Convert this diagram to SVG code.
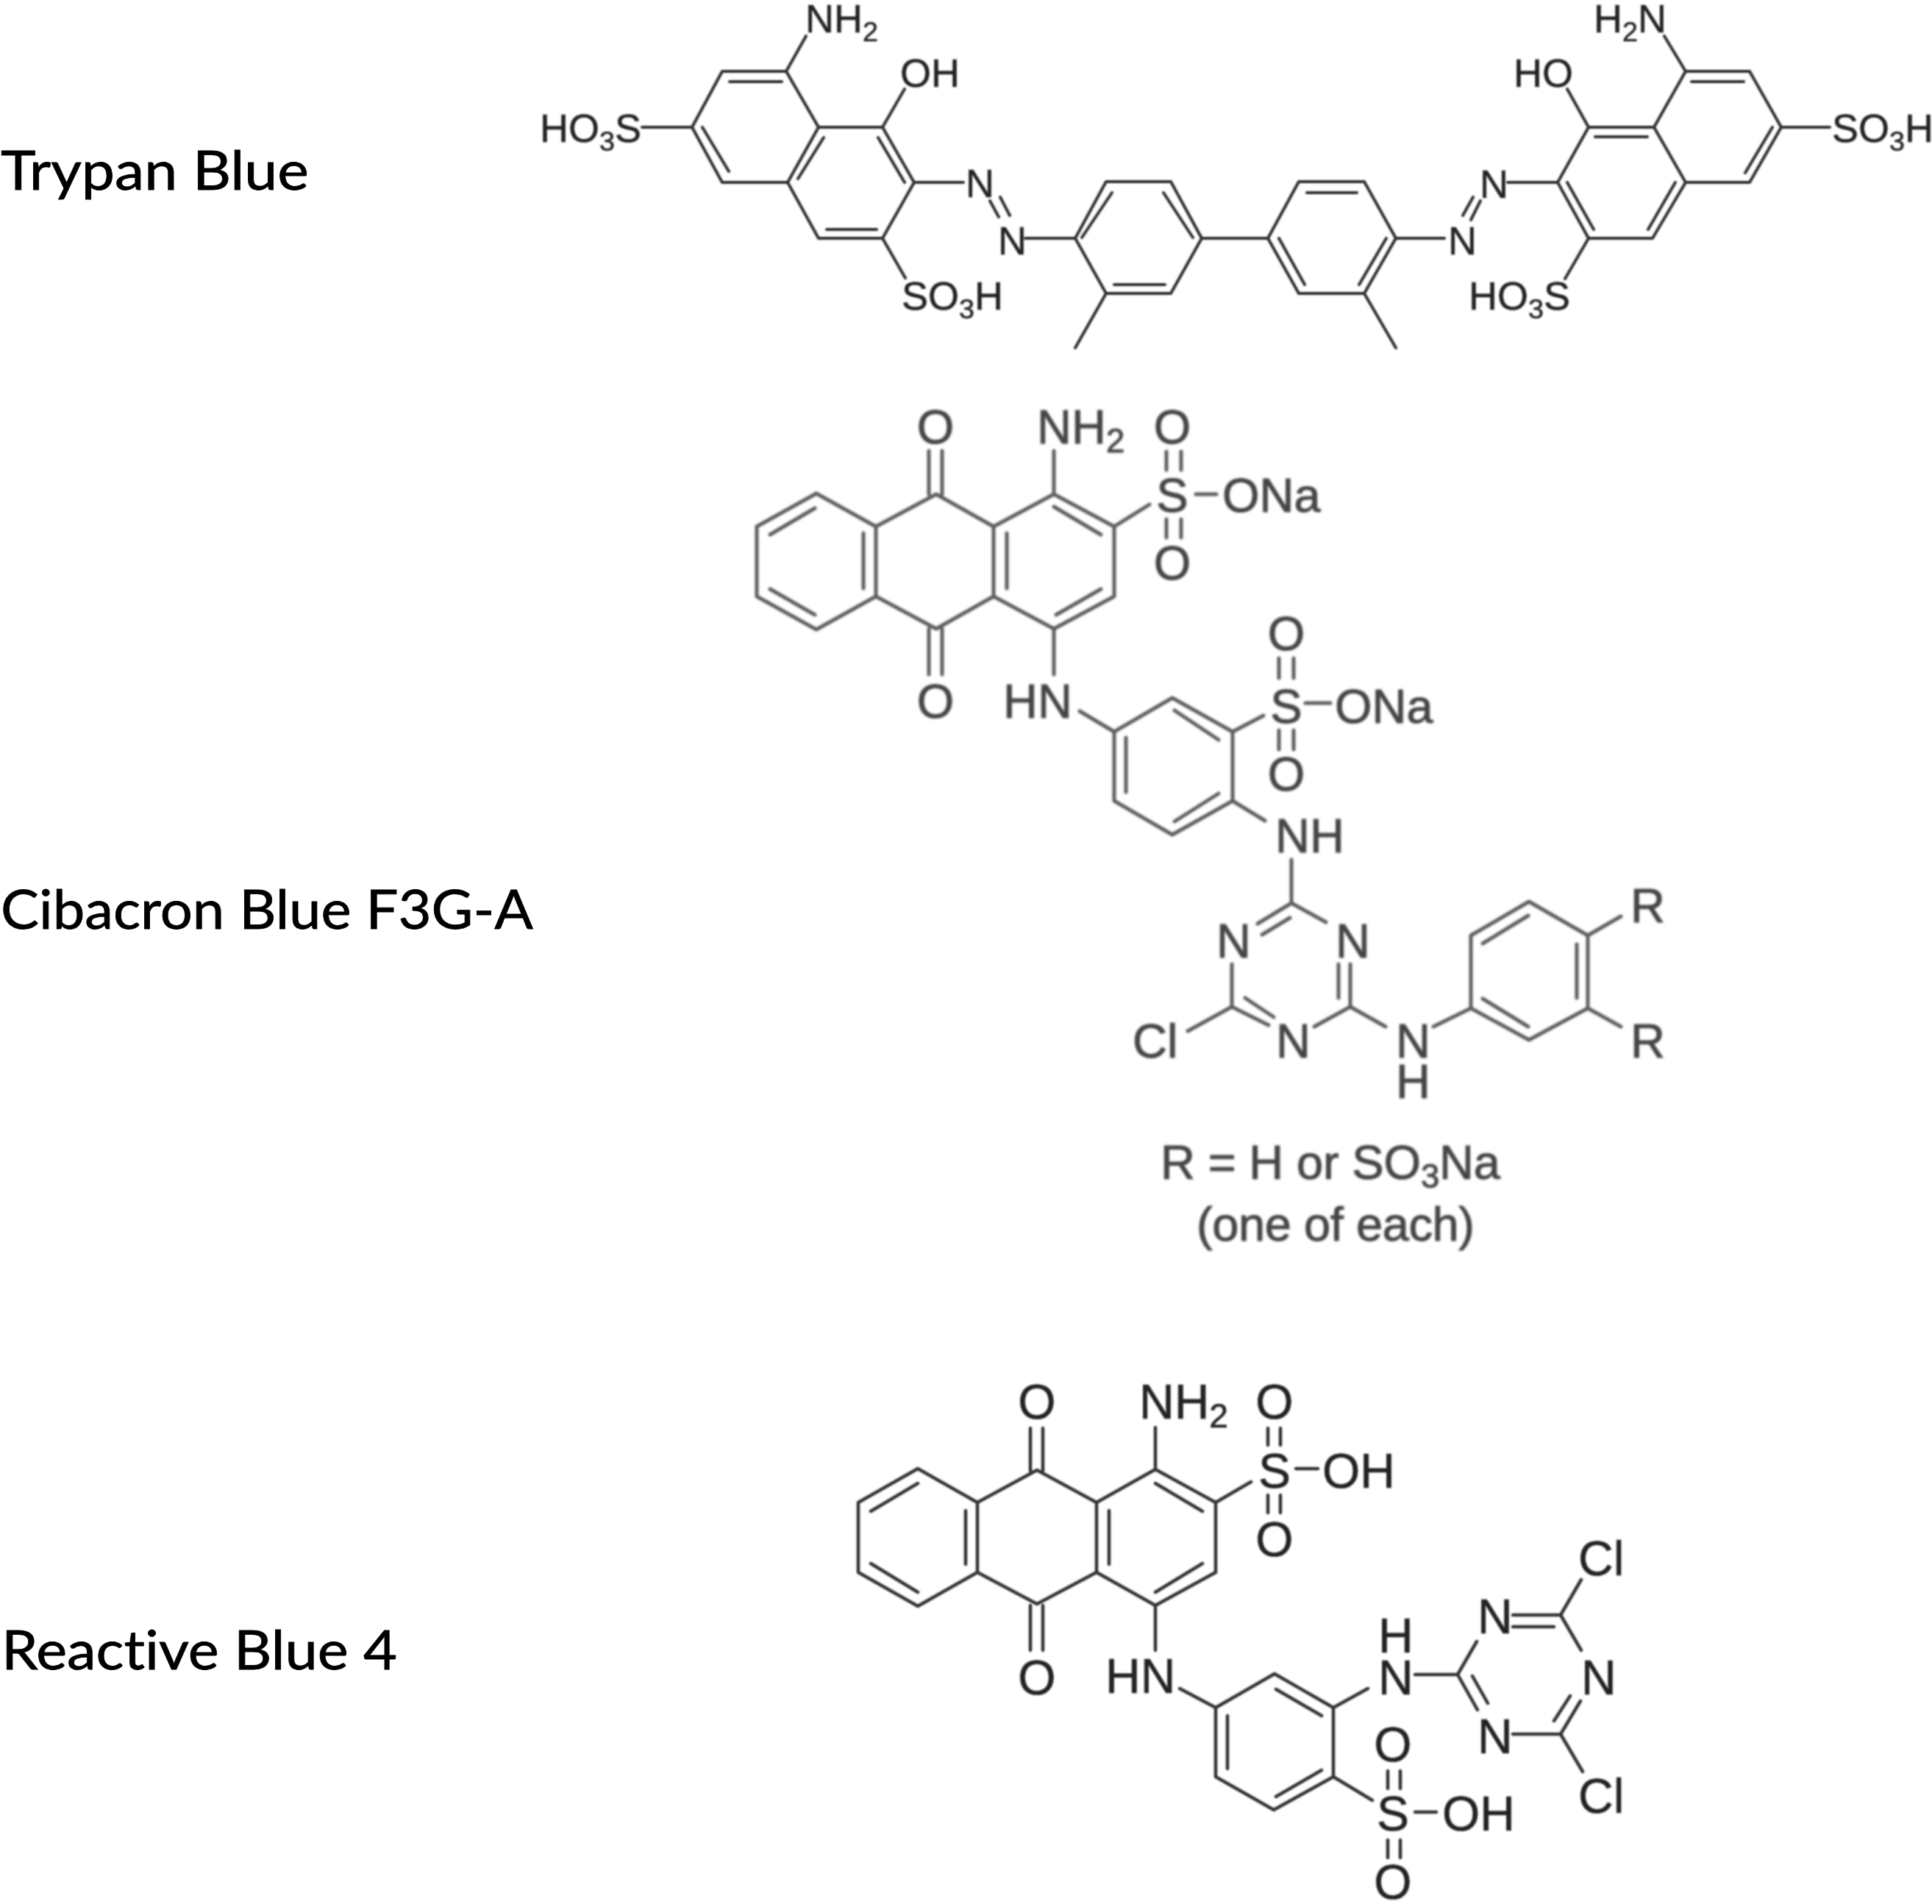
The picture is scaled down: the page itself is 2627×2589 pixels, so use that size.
<svg xmlns="http://www.w3.org/2000/svg" width="2627" height="2589" viewBox="0 0 2627 2589">
<style>
.b{fill:none;stroke-linecap:round;stroke-linejoin:round}
.t1 path{stroke:#2e2e2e;stroke-width:4}
.t1 text{font:54px "Liberation Sans",Arial,sans-serif;fill:#222;stroke:#222;stroke-width:.5}
.t2 path{stroke:#5c5c5c;stroke-width:5}
.t2 text{font:65px "Liberation Sans",Arial,sans-serif;fill:#444;stroke:#444;stroke-width:1}
.t3 path{stroke:#333;stroke-width:4.5}
.t3 text{font:66px "Liberation Sans",Arial,sans-serif;fill:#222;stroke:#222;stroke-width:.6}
.m{text-anchor:middle}
.s{font-size:.7em}
.name{font:74px Lato,"Open Sans",sans-serif;fill:#000;stroke:#000;stroke-width:.8;font-variant-ligatures:none}
</style>
<defs>
<filter id="soft" x="-5%" y="-5%" width="110%" height="110%"><feGaussianBlur stdDeviation="0.9"/></filter>
<filter id="softer" x="-5%" y="-5%" width="110%" height="110%"><feGaussianBlur stdDeviation="1.6"/></filter>
</defs>
<rect width="2627" height="2589" fill="#fff"/>
<g id="names">
<text class="name" x="1" y="258" textLength="419" lengthAdjust="spacingAndGlyphs">Trypan Blue</text>
<text class="name" x="1" y="1263" textLength="724" lengthAdjust="spacingAndGlyphs">Cibacron Blue F3G-A</text>
<text class="name" x="2" y="2270" textLength="538" lengthAdjust="spacingAndGlyphs">Reactive Blue 4</text>
</g>
<g id="trypan-blue" class="t1" filter="url(#soft)">
<path class="b" d="M1096 49L1069 97L982 97L941 173L982 248L1071 248L1113 173L1069 97M1071 248L1113 324L1200 324L1243 248L1200 173L1113 173M1230 121L1200 173M1200 324L1231 378M873 173L941 173M1243 248L1310 248M1346 273L1358 295M1360 268L1373 293M1394 324L1462 324L1504 247L1592 247L1634 324L1592 399L1504 399L1462 324M1504 399L1462 473M1634 324L1724 324L1766 247L1855 247L1898 324L1855 399L1766 399L1724 324M1855 399L1898 473M1898 324L1964 324M1989 293L2003 268M2000 299L2013 273M2050 248L2118 248L2160 173L2249 173L2292 248L2247 324L2160 324L2118 248M2292 97L2379 97L2422 173L2379 248L2292 248M2292 97L2249 173M2263 49L2292 97M2131 121L2160 173M2160 324L2128 379M2422 173L2488 173"/>
<path class="b" d="M992 111L1063 111M955 173L991 233M1120 187L1085 243M1194 187L1230 248M1124 312L1192 312M1471 323L1512 262M1582 262L1622 323M1515 387L1584 387M1777 262L1845 262M1739 324L1774 387M1885 324L1848 387M2300 111L2371 111M2169 186L2240 186M2410 173L2373 235M2278 248L2241 312M2131 248L2167 312" stroke-width="3.5"/>
<text x="1095" y="44">NH<tspan class="s" dy="12">2</tspan></text>
<text x="1224" y="118">OH</text>
<text x="734" y="193">HO<tspan class="s" dy="12">3</tspan><tspan dy="-12">S</tspan></text>
<text x="1226" y="421">SO<tspan class="s" dy="12">3</tspan><tspan dy="-12">H</tspan></text>
<text x="1313" y="268">N</text>
<text x="1357" y="346">N</text>
<text x="2167" y="44">H<tspan class="s" dy="12">2</tspan><tspan dy="-12">N</tspan></text>
<text x="2058" y="118">HO</text>
<text x="1997" y="421">HO<tspan class="s" dy="12">3</tspan><tspan dy="-12">S</tspan></text>
<text x="2491" y="193">SO<tspan class="s" dy="12">3</tspan><tspan dy="-12">H</tspan></text>
<text x="2012" y="269">N</text>
<text x="1969" y="346">N</text>
</g>
<g id="cibacron-blue" class="t2" filter="url(#softer)">
<path class="b" d="M1110 671L1029 716L1029 811L1110 856L1191 811L1191 716L1110 671M1191 716L1273 672L1351 716L1351 811L1273 855L1191 811M1351 716L1433 672L1515 716L1515 811L1433 855L1351 811M1263 613L1263 672M1281 613L1281 672M1263 855L1263 917M1281 855L1281 917M1433 672L1433 613M1515 716L1563 686M1586 614L1586 639M1606 614L1606 639M1586 706L1586 731M1606 706L1606 731M1626 672L1654 672M1433 855L1433 917M1468 967L1515 995L1594 949L1676 995L1676 1089L1594 1135L1515 1089L1515 995M1676 995L1718 973M1739 895L1739 922M1759 895L1759 922M1739 993L1739 1019M1759 993L1759 1019M1775 956L1809 956M1676 1089L1720 1116"/>
<path class="b" d="M1047 727L1108 691M1047 801L1108 836M1174 725L1174 800M1369 725L1369 800M1433 689L1497 727M1497 801L1436 836M1597 966L1657 1006M1531 1003L1531 1077M1657 1079L1597 1117"/>
<path class="b" d="M1756 1169L1756 1228M1756 1228L1803 1254M1756 1228L1710 1256M1716 1271L1754 1248M1675 1311L1675 1369M1820 1311L1820 1357M1836 1311L1836 1369M1675 1369L1725 1394M1693 1357L1732 1383M1675 1369L1615 1402M1836 1369L1787 1396M1836 1369L1884 1396M1949 1396L2000 1371L2000 1272L2079 1226L2159 1272L2159 1371L2079 1414L2000 1371M2016 1283L2078 1245M2144 1284L2144 1357M2016 1358L2078 1396M2159 1272L2204 1246M2159 1371L2204 1396"/>
<text class="m" x="1272" y="603">O</text>
<text class="m" x="1272" y="976">O</text>
<text x="1410" y="603">NH<tspan class="s" dy="12">2</tspan></text>
<text class="m" x="1594" y="603">O</text>
<text class="m" x="1594" y="696">S</text>
<text class="m" x="1594" y="788">O</text>
<text x="1662" y="696">ONa</text>
<text x="1364" y="976">HN</text>
<text class="m" x="1749" y="884">O</text>
<text class="m" x="1749" y="983">S</text>
<text class="m" x="1749" y="1075">O</text>
<text x="1815" y="983">ONa</text>
<text x="1734" y="1159">NH</text>
<text x="1654" y="1302">N</text>
<text x="1816" y="1302">N</text>
<text x="1540" y="1438">Cl</text>
<text x="1735" y="1438">N</text>
<text x="1898" y="1438">N<tspan x="1898" dy="55">H</tspan></text>
<text x="2217" y="1254">R</text>
<text x="2217" y="1438">R</text>
<text x="1578" y="1603" textLength="462" lengthAdjust="spacing">R = H or SO<tspan class="s" dy="12">3</tspan><tspan dy="-12">Na</tspan></text>
<text x="1627" y="1687" textLength="378" lengthAdjust="spacing">(one of each)</text>
</g>
<g id="reactive-blue" class="t3" filter="url(#soft)">
<path class="b" d="M1248 1997L1167 2043L1167 2138L1248 2184L1329 2138L1329 2043L1248 1997M1329 2043L1410 1999L1491 2043L1491 2138L1410 2181L1329 2138M1491 2043L1571 1998L1653 2043L1653 2138L1571 2183L1491 2138M1401 1942L1401 2000M1418 1942L1418 2000M1401 2183L1401 2244M1418 2183L1418 2244M1571 1998L1571 1941M1653 2043L1701 2015M1724 1942L1724 1965M1741 1942L1741 1965M1724 2033L1724 2057M1741 2033L1741 2057M1762 1997L1792 1997M1571 2183L1571 2244M1604 2296L1653 2322L1733 2276L1813 2322L1813 2416L1732 2461L1653 2416L1653 2322M1813 2322L1860 2296M1813 2416L1866 2448M1887 2408L1887 2432M1904 2408L1904 2432M1887 2502L1887 2526M1904 2502L1904 2526M1924 2464L1953 2464"/>
<path class="b" d="M1184 2055L1248 2017M1184 2126L1248 2165M1313 2054L1313 2127M1508 2054L1508 2127M1571 2017L1635 2055M1635 2126L1571 2165M1735 2297L1797 2333M1669 2333L1669 2405M1797 2407L1735 2443"/>
<path class="b" d="M1924 2277L1982 2277M1982 2277L2008 2232M1982 2277L2009 2325M2002 2279L2023 2316M2057 2196L2122 2196M2057 2212L2113 2212M2122 2196L2150 2244M2122 2196L2150 2148M2057 2358L2122 2358M2122 2358L2149 2313M2113 2340L2135 2306M2122 2358L2152 2409"/>
<text class="m" x="1410" y="1929">O</text>
<text class="m" x="1410" y="2304">O</text>
<text x="1549" y="1929">NH<tspan class="s" dy="12">2</tspan></text>
<text class="m" x="1733" y="1929">O</text>
<text class="m" x="1733" y="2023">S</text>
<text class="m" x="1733" y="2116">O</text>
<text x="1798" y="2023">OH</text>
<text x="1503" y="2302">HN</text>
<text x="1874" y="2247">H<tspan x="1874" dy="57">N</tspan></text>
<text x="2009" y="2221">N</text>
<text x="2009" y="2384">N</text>
<text x="2150" y="2304">N</text>
<text x="2146" y="2142">Cl</text>
<text x="2146" y="2465">Cl</text>
<text class="m" x="1894" y="2395">O</text>
<text class="m" x="1894" y="2489">S</text>
<text class="m" x="1894" y="2582">O</text>
<text x="1961" y="2489">OH</text>
</g>
</svg>
